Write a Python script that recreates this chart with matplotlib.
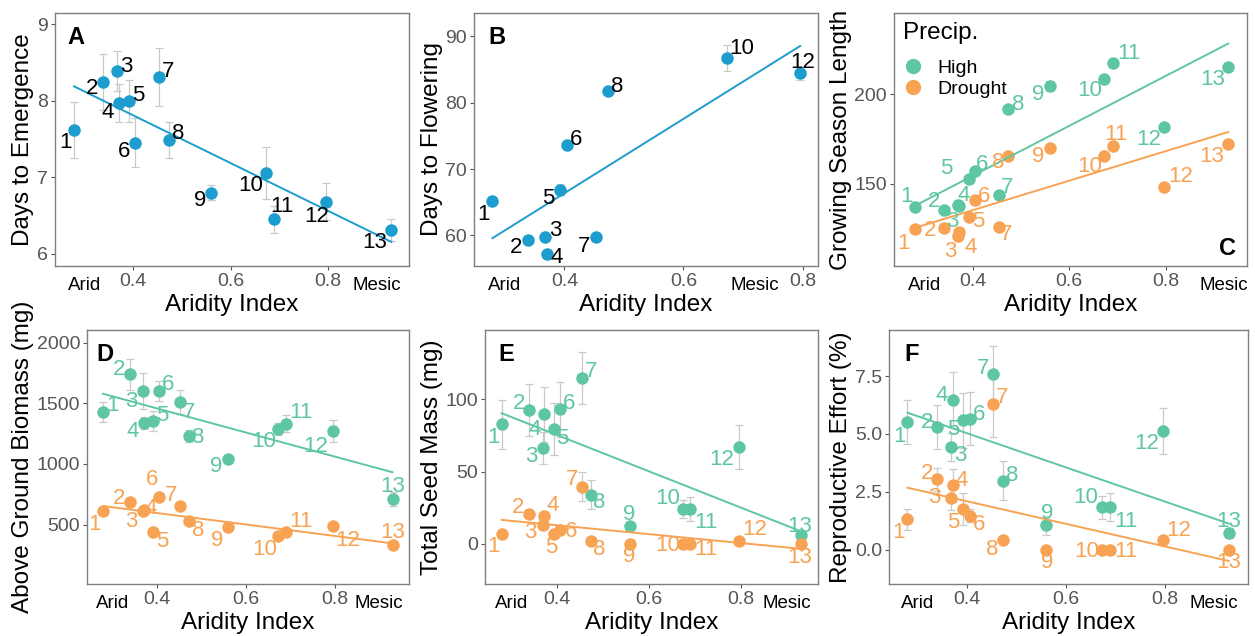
import numpy as np
import matplotlib
matplotlib.use("Agg")
import matplotlib.pyplot as plt
from matplotlib.lines import Line2D

plt.rcParams['font.family'] = ['Liberation Sans', 'DejaVu Sans']

# aridity index of the 13 populations
aridity = [0.279, 0.339, 0.368, 0.371, 0.392, 0.405, 0.453, 0.473, 0.559, 0.673, 0.690, 0.796, 0.930]
pops = list(range(1, 14))

# A - days to emergence
emergence = [7.62, 8.25, 8.39, 7.97, 8.00, 7.45, 8.31, 7.49, 6.80, 7.06, 6.45, 6.68, 6.31]
emergence_se = [0.37, 0.37, 0.26, 0.25, 0.27, 0.32, 0.38, 0.24, 0.10, 0.34, 0.18, 0.24, 0.14]

# B - days to flowering (pops 9, 11, 13 did not flower)
flower_pops = [1, 2, 3, 4, 5, 6, 7, 8, 10, 12]
flowering = [65.2, 59.3, 59.7, 57.2, 66.9, 73.6, 59.7, 81.7, 86.7, 84.4]
flowering_se = [0.4, 0.4, 0.4, 0.4, 0.8, 0.5, 0.4, 0.5, 2.0, 1.0]

# C - growing season length
season_high = [137.4, 135.5, 138.3, 137.7, 152.6, 157.4, 143.9, 191.6, 204.6, 208.7, 217.3, 181.6, 215.4]
season_high_se = [1, 1, 3, 2, 2, 2, 1, 1, 3, 1, 1, 1, 1]
season_drought = [124.7, 125.3, 121.0, 123.0, 131.4, 141.1, 126.2, 165.6, 169.9, 165.6, 171.2, 148.5, 172.3]
season_drought_se = [1, 1, 2, 2, 2, 1, 1, 1, 1, 1, 2, 1, 1]

# D - above ground biomass (mg)
biomass_high = [1428, 1738, 1601, 1339, 1353, 1601, 1510, 1229, 1042, 1290, 1331, 1271, 712]
biomass_high_se = [80, 130, 150, 50, 80, 80, 100, 50, 30, 50, 70, 90, 60]
biomass_drought = [615, 684, 615, 624, 437, 725, 651, 527, 481, 404, 437, 486, 335]
biomass_drought_se = [20, 20, 20, 20, 20, 20, 20, 20, 20, 20, 20, 20, 20]

# E - total seed mass (mg)
seed_high = [82.7, 92.6, 66.5, 89.6, 79.7, 93.1, 114.5, 34.2, 12.2, 24.2, 24.2, 67.0, 6.5]
seed_high_se = [17, 18, 11, 19, 18, 19, 18, 10, 2, 6, 8, 15, 2]
seed_drought = [7.2, 21.0, 13.4, 19.2, 7.2, 9.9, 39.5, 1.8, 0.0, 0.0, 0.0, 1.8, 0.0]
seed_drought_se = [1, 2, 3, 3, 2, 2, 10, 1, 0, 0, 0, 1, 0]

# F - reproductive effort (%)
effort_high = [5.51, 5.31, 4.43, 6.46, 5.58, 5.65, 7.60, 2.98, 1.04, 1.83, 1.83, 5.12, 0.72]
effort_high_se = [0.95, 0.95, 0.6, 1.2, 1.2, 1.15, 1.2, 0.85, 0.4, 0.5, 0.6, 1.0, 0.2]
effort_drought = [1.30, 3.03, 2.23, 2.77, 1.76, 1.47, 6.27, 0.43, 0.0, 0.0, 0.0, 0.40, 0.0]
effort_drought_se = [0.45, 0.5, 0.5, 0.7, 0.7, 0.3, 1.4, 0.05, 0, 0, 0, 0.05, 0]

# colours
BLUE = '#1C9DCE'
GREEN = '#5EC6A1'
ORANGE = '#F8A253'
ERR = '#C9C9C9'

# label offsets in pixels (dx right, dy down) – mimic ggrepel placement
OFF = {
    'A': [(-9, 13), (-11, 7), (9, -5), (-11, 9), (9, -5), (-11, 9), (9, -6), (10, -6),
          (-10, 8), (-15, 13), (8, -13), (-9, 15), (-17, 12)],
    'B': [(-9, 14), (-12, 7), (10, -7), (9, 3), (-11, 9), (9, -6), (-12, 9), (9, -5),
          (15, -10), (3, -11)],
    'C_high': [(-8, -10), (-10, -8), (-5, 17), (5, -11), (-23, -11), (7, -6), (9, -7), (10, -5),
               (-11, 9), (-15, 12), (16, -10), (-15, 12), (-16, 13)],
    'C_drought': [(-11, 14), (-14, 2), (-7, 15), (12, 15), (9, 4), (9, -3), (8, 8), (-10, 7),
                  (-11, 8), (-15, 11), (3, -11), (17, -10), (-17, 13)],
    'D_high': [(9, -7), (-11, -5), (-11, 10), (-11, 9), (9, -6), (9, -7), (9, 10), (9, 1),
               (-11, 8), (-15, 13), (15, -11), (-17, 15), (0, -12)],
    'D_drought': [(-9, 14), (-11, -4), (-11, 11), (7, -1), (9, 9), (-7, -18), (-9, -11), (9, 9),
                  (-10, 14), (-14, 13), (15, -11), (15, 14), (0, -12)],
    'E_high': [(-8, 13), (-10, -7), (-11, 9), (-9, 15), (9, 10), (9, -6), (9, -7), (8, 8),
               (-1, -12), (-15, -10), (16, 14), (-17, 12), (-1, -8)],
    'E_drought': [(-8, 13), (-11, -6), (-12, 8), (9, -11), (-2, 14), (11, 2), (-10, -7), (8, 8),
                  (-1, 13), (-15, 2), (16, 6), (16, -12), (-1, 14)],
    'F_high': [(-8, 14), (-10, -4), (9, 8), (-11, -5), (-10, 9), (9, -4), (-10, -5), (9, -5),
               (1, -12), (-16, -10), (16, 14), (-16, 12), (0, -11)],
    'F_drought': [(-9, 13), (-10, -6), (-17, 0), (9, -5), (-10, 14), (9, 9), (9, -7), (-11, 10),
                  (1, 13), (-15, 2), (16, 2), (16, -10), (0, 13)],
}

W, H = 1255, 636
fig = plt.figure(figsize=(W / 100, H / 100), dpi=100)


def make_ax(left, right, top, bottom):
    return fig.add_axes([left / W, 1 - bottom / H, (right - left) / W, (bottom - top) / H])


def style(ax, xlim, ylim, yticks, ylabel, mesic=0.9):
    ax.set_xlim(*xlim)
    ax.set_ylim(*ylim)
    ticks = [0.3, 0.4, 0.6, 0.8, mesic]
    labels = ['Arid', '0.4', '0.6', '0.8', 'Mesic']
    ax.set_xticks(ticks)
    ax.set_xticklabels(labels)
    ax.set_yticks(yticks)
    ax.tick_params(direction='out', length=3, width=0.8, color='#555555',
                   labelsize=14, labelcolor='#555555', pad=2)
    for t, lab in zip(ax.xaxis.get_major_ticks(), labels):
        if lab in ('Arid', 'Mesic'):
            t.tick1line.set_visible(False)
            t.label1.set_color('black')
            t.label1.set_fontsize(13.5)
            t.label1.set_y(-0.015)
    for s in ax.spines.values():
        s.set_color('#7F7F7F')
        s.set_linewidth(1.0)
    ax.set_xlabel('Aridity Index', fontsize=17.5, labelpad=0)
    ax.set_ylabel(ylabel, fontsize=17.5, labelpad=2)


def series(ax, x, y, err, color, names, offs, fit=True):
    ax.errorbar(x, y, yerr=err, fmt='none', ecolor=ERR, elinewidth=0.9,
                capsize=3, capthick=0.9, zorder=1)
    ax.plot(x, y, 'o', color=color, ms=9, mec='none', zorder=2)
    if fit:
        k, b = np.polyfit(x, y, 1)
        xs = np.array([min(x), max(x)])
        ax.plot(xs, k * xs + b, color=color, lw=1.4, zorder=3)
    txt = 'black' if color == BLUE else color
    for xi, yi, n, (dx, dy) in zip(x, y, names, offs):
        ax.annotate(str(n), (xi, yi), xytext=(dx, -dy), textcoords='offset pixels',
                    ha='center', va='center', fontsize=16, color=txt, zorder=4)


def letter(ax, s, x, y):
    ax.text(x, y, s, transform=ax.transAxes, fontsize=17, fontweight='bold',
            ha='center', va='center')


# A
ax = make_ax(55, 409, 13, 266)
series(ax, aridity, emergence, emergence_se, BLUE, pops, OFF['A'])
style(ax, (0.24, 0.966), (5.84, 9.15), [6, 7, 8, 9], 'Days to Emergence')
letter(ax, 'A', 0.06, 0.905)

# B
ax = make_ax(474, 818, 13, 266)
fx = [aridity[p - 1] for p in flower_pops]
series(ax, fx, flowering, flowering_se, BLUE, flower_pops, OFF['B'])
style(ax, (0.248, 0.826), (55.4, 93.5), [60, 70, 80, 90], 'Days to Flowering', mesic=0.72)
letter(ax, 'B', 0.067, 0.905)

# C
ax = make_ax(894, 1247, 13, 266)
series(ax, aridity, season_high, season_high_se, GREEN, pops, OFF['C_high'])
series(ax, aridity, season_drought, season_drought_se, ORANGE, pops, OFF['C_drought'])
style(ax, (0.236, 0.969), (104.3, 245.2), [150, 200], 'Growing Season Length', mesic=0.92)
letter(ax, 'C', 0.946, 0.07)
# legend: title as text, entries below it
ax.text(0.026, 0.921, 'Precip.', transform=ax.transAxes, fontsize=17.5,
        ha='left', va='center')
handles = [Line2D([], [], marker='o', ls='none', color=GREEN, ms=11, mec='none'),
           Line2D([], [], marker='o', ls='none', color=ORANGE, ms=11, mec='none')]
ax.legend(handles, ['High', 'Drought'], loc='center left',
          bbox_to_anchor=(0.026, 0.741), frameon=False, fontsize=14,
          handletextpad=0.75, labelspacing=0.15, borderpad=0,
          borderaxespad=0, handlelength=1.0)

# D
ax = make_ax(87, 409, 330, 584)
series(ax, aridity, biomass_high, biomass_high_se, GREEN, pops, OFF['D_high'])
series(ax, aridity, biomass_drought, biomass_drought_se, ORANGE, pops, OFF['D_drought'])
style(ax, (0.243, 0.967), (10, 2105), [500, 1000, 1500, 2000], 'Above Ground Biomass (mg)')
letter(ax, 'D', 0.056, 0.902)

# E
ax = make_ax(485, 818, 330, 584)
series(ax, aridity, seed_high, seed_high_se, GREEN, pops, OFF['E_high'])
series(ax, aridity, seed_drought, seed_drought_se, ORANGE, pops, OFF['E_drought'])
style(ax, (0.2425, 0.968), (-27.7, 148), [0, 50, 100], 'Total Seed Mass (mg)')
letter(ax, 'E', 0.063, 0.902)

# F
ax = make_ax(889, 1248, 330, 584)
series(ax, aridity, effort_high, effort_high_se, GREEN, pops, OFF['F_high'])
series(ax, aridity, effort_drought, effort_drought_se, ORANGE, pops, OFF['F_drought'])
style(ax, (0.2416, 0.969), (-1.49, 9.49), [0, 2.5, 5.0, 7.5], 'Reproductive Effort (%)')
ax.set_yticklabels(['0.0', '2.5', '5.0', '7.5'])
letter(ax, 'F', 0.064, 0.902)

fig.savefig('out.png', dpi=100)
